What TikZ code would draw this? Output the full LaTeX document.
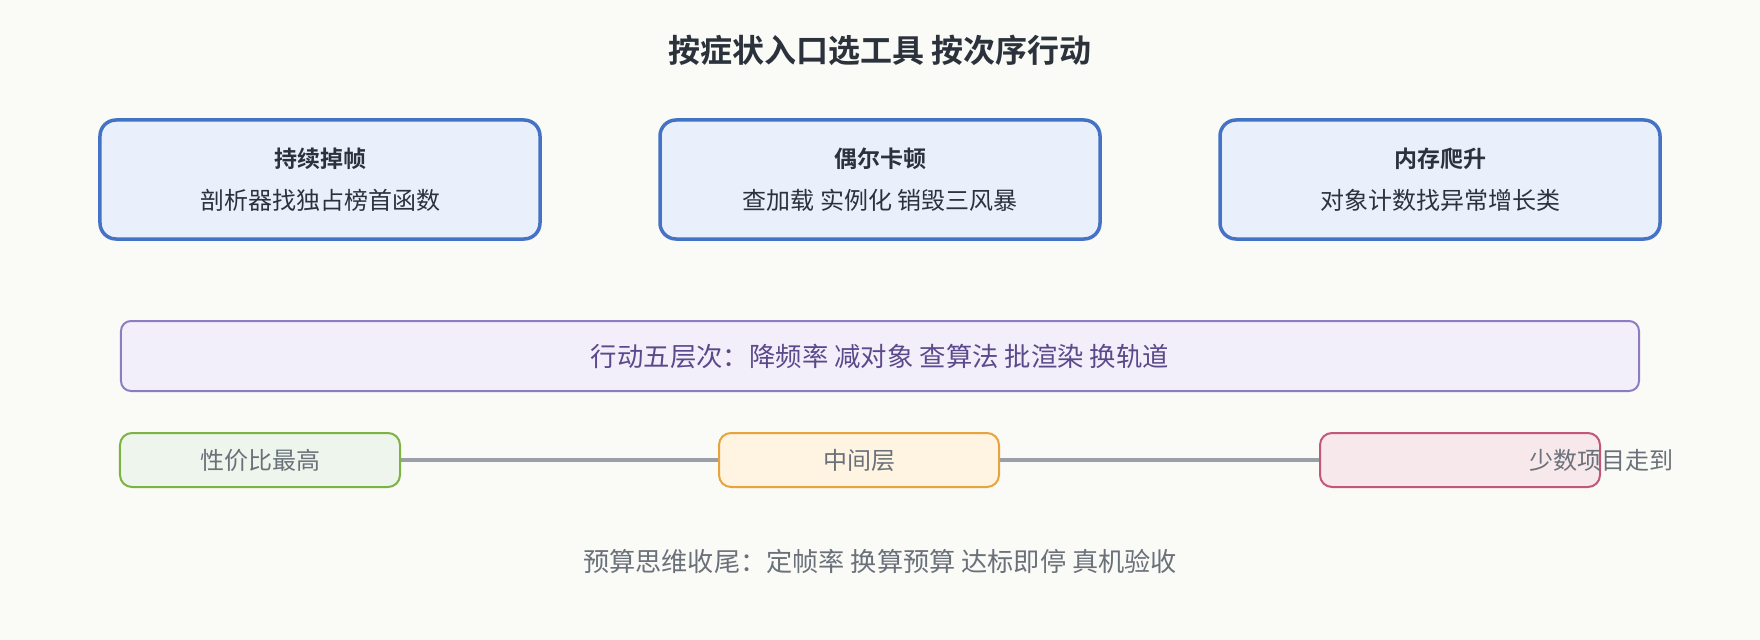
\documentclass[tikz,border=0pt]{standalone}
\usepackage{fontspec}
\setmainfont{Noto Sans CJK SC}
\newfontfamily\cjkbold{Noto Sans CJK SC Bold}
\usetikzlibrary{calc,shapes,positioning}
\definecolor{bgcol}{HTML}{FAFAF6}
\definecolor{symline}{HTML}{4472C4}
\definecolor{symfill}{HTML}{E9F0FB}
\definecolor{actline}{HTML}{8E7CC3}
\definecolor{actfill}{HTML}{F3EFFA}
\definecolor{acttext}{HTML}{5A4A8C}
\definecolor{lowline}{HTML}{7CB342}
\definecolor{lowfill}{HTML}{EEF5EC}
\definecolor{midline}{HTML}{E8A33D}
\definecolor{midfill}{HTML}{FFF3E2}
\definecolor{highline}{HTML}{C2577A}
\definecolor{highfill}{HTML}{F7E8EB}
\definecolor{darktext}{HTML}{2B323C}
\definecolor{graytext}{HTML}{6B717A}
\definecolor{connline}{HTML}{9AA0A8}

\begin{document}
\begin{tikzpicture}[x=1bp, y=-1bp]
    \tikzstyle{snode} = [draw=symline, fill=symfill, line width = 3.5bp, rectangle,
      rounded corners = 16bp, minimum width = 440bp, minimum height = 119bp,
      align=center, text=darktext, font=\fontsize{24bp}{42bp}\selectfont]
    \tikzstyle{lnode} = [draw=actline, fill=actfill, line width = 2bp, rectangle,
      rounded corners = 10bp, minimum width = 1518bp, minimum height = 70bp,
      text=acttext, font=\fontsize{26.4bp}{30bp}\selectfont]
    \tikzstyle{tnode} = [line width = 2bp, rectangle, rounded corners = 12bp,
      minimum width = 280bp, minimum height = 54bp, text=graytext,
      font=\fontsize{24bp}{28bp}\selectfont]
    \tikzstyle{ttext} = [text=graytext, font=\fontsize{24bp}{28bp}\selectfont]

    \useasboundingbox (0,0) rectangle (1760,640);
    \fill[bgcol] (0,0) rectangle (1760,640);

    \node[text=darktext, font=\cjkbold\fontsize{32bp}{36bp}\selectfont] (title) at (880, 50)
      {按症状入口选工具 按次序行动};

    % symptom entries
    \node[snode] (lag) at (320, 179.5)
      {{\cjkbold\fontsize{23bp}{42bp}\selectfont 持续掉帧}\\剖析器找独占榜首函数};
    \node[snode] (hitch) at (880, 179.5)
      {{\cjkbold\fontsize{23bp}{42bp}\selectfont 偶尔卡顿}\\查加载 实例化 销毁三风暴};
    \node[snode] (mem) at (1440, 179.5)
      {{\cjkbold\fontsize{23bp}{42bp}\selectfont 内存爬升}\\对象计数找异常增长类};

    \node[lnode] (layers) at (880, 356)
      {行动五层次：降频率 减对象 查算法 批渲染 换轨道};

    % cost scale
    \node[tnode, draw=lowline, fill=lowfill] (low) at (260, 460) {性价比最高};
    \node[tnode, draw=midline, fill=midfill] (mid) at (859, 460) {中间层};
    \node[tnode, draw=highline, fill=highfill] (high) at (1460, 460) {};
    \node[ttext] (few) at (high.east) {少数项目走到};

    \draw[-, connline, line width = 3.5bp] (low) to (mid);
    \draw[-, connline, line width = 3.5bp] (mid) to (high);

    \node[ttext, font=\fontsize{26.2bp}{30bp}\selectfont] (budget) at (880, 561)
      {预算思维收尾：定帧率 换算预算 达标即停 真机验收};
\end{tikzpicture}
\end{document}
